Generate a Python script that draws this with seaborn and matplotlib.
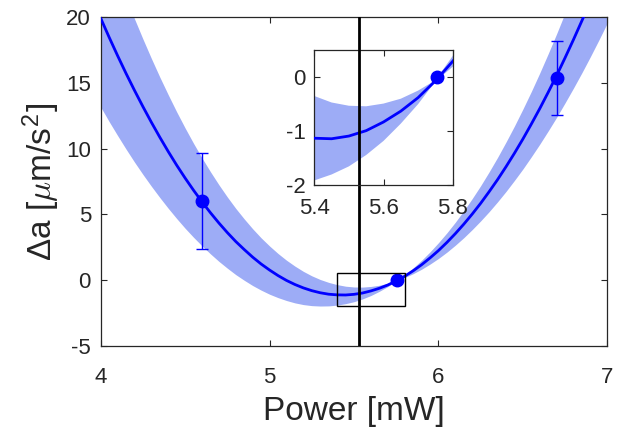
import numpy as np
import pandas as pd
import matplotlib
matplotlib.use("Agg")
import matplotlib.pyplot as plt
import seaborn as sns
from matplotlib.patches import Rectangle

# ---- data ----
power = [4.00, 4.05, 4.10, 4.15, 4.20, 4.25, 4.30, 4.35, 4.40, 4.45, 4.50, 4.55, 4.60, 4.65, 4.70,
         4.75, 4.80, 4.85, 4.90, 4.95, 5.00, 5.05, 5.10, 5.15, 5.20, 5.25, 5.30, 5.35, 5.40, 5.45,
         5.50, 5.55, 5.60, 5.65, 5.70, 5.75, 5.80, 5.85, 5.90, 5.95, 6.00, 6.05, 6.10, 6.15, 6.20,
         6.25, 6.30, 6.35, 6.40, 6.45, 6.50, 6.55, 6.60, 6.65, 6.70, 6.75, 6.80, 6.85, 6.90, 6.95, 7.00]
fit_center = [19.93, 18.48, 17.08, 15.73, 14.44, 13.20, 12.01, 10.87, 9.78, 8.74, 7.76, 6.83, 5.95, 5.12, 4.34,
              3.61, 2.93, 2.32, 1.74, 1.22, 0.76, 0.34, -0.03, -0.34, -0.60, -0.81, -0.97, -1.08, -1.13, -1.14,
              -1.09, -0.99, -0.83, -0.63, -0.38, -0.07, 0.29, 0.70, 1.16, 1.68, 2.24, 2.86, 3.53, 4.25, 5.02,
              5.84, 6.72, 7.64, 8.62, 9.65, 10.73, 11.87, 13.05, 14.29, 15.57, 16.92, 18.31, 19.75, 21.24, 22.79, 24.39]
fit_lower = [13.17, 12.06, 11.00, 9.97, 8.98, 8.04, 7.14, 6.28, 5.46, 4.68, 3.94, 3.25, 2.60, 1.99, 1.42,
             0.90, 0.41, -0.02, -0.42, -0.77, -1.08, -1.34, -1.56, -1.74, -1.87, -1.95, -1.98, -1.97, -1.91, -1.80,
             -1.65, -1.44, -1.18, -0.86, -0.50, -0.08, 0.19, 0.48, 0.82, 1.21, 1.64, 2.12, 2.65, 3.22, 3.84,
             4.50, 5.20, 5.95, 6.74, 7.58, 8.45, 9.38, 10.34, 11.35, 12.39, 13.49, 14.62, 15.79, 17.01, 18.27, 19.57]
fit_upper = [26.68, 24.89, 23.16, 21.49, 19.89, 18.35, 16.87, 15.45, 14.10, 12.80, 11.57, 10.40, 9.29, 8.24, 7.25,
             6.32, 5.45, 4.65, 3.90, 3.21, 2.59, 2.02, 1.51, 1.06, 0.66, 0.32, 0.04, -0.18, -0.35, -0.47,
             -0.53, -0.54, -0.49, -0.40, -0.25, -0.06, 0.39, 0.92, 1.50, 2.14, 2.84, 3.59, 4.40, 5.27, 6.20,
             7.18, 8.23, 9.33, 10.50, 11.72, 13.01, 14.35, 15.76, 17.23, 18.75, 20.34, 21.99, 23.70, 25.47, 27.31, 29.20]
meas_power = [4.60, 5.755, 6.70]
meas_da = [6.04, 0.0, 15.40]
meas_err = [3.65, 0.0, 2.80]
vline_power = 5.53
zoom_box_x = [5.4, 5.8]
zoom_box_y = [-2.0, 0.5]
main_xticks = [4, 5, 6, 7]
main_yticks = [-5, 0, 5, 10, 15, 20]
inset_xticks = [5.4, 5.6, 5.8]
inset_yticks = [-2, -1, 0]

# ---- style ----
sns.set_theme(style="white")
plt.rcParams['font.family'] = ['Liberation Sans', 'DejaVu Sans']
plt.rcParams['mathtext.fontset'] = 'cm'
plt.rcParams['axes.unicode_minus'] = False

W, H = 627, 432
fig = plt.figure(figsize=(W / 100, H / 100), dpi=100)
ax = fig.add_axes([100.7 / W, 1 - 345.7 / H, (607.3 - 100.7) / W, (345.7 - 17.3) / H])
axin = fig.add_axes([314.3 / W, 1 - 185.3 / H, (452.7 - 314.3) / W, (185.3 - 50.0) / H])

df = pd.DataFrame({"power": power, "center": fit_center})
band_color = "#9dacf6"
ink = "#262626"

for a in (ax, axin):
    a.fill_between(power, fit_lower, fit_upper, color=band_color, lw=0, zorder=1)
    sns.lineplot(data=df, x="power", y="center", ax=a, color="blue", lw=2.0, zorder=3)
    a.errorbar(meas_power, meas_da, yerr=meas_err, fmt="o", color="blue", ms=9,
               elinewidth=1.0, capsize=4, capthick=1.0, zorder=4)
    a.axvline(vline_power, color="black", lw=2.0, zorder=5)
    a.set_facecolor("white")
    for s in a.spines.values():
        s.set_color(ink)
        s.set_linewidth(0.9)
        s.set_visible(True)
    a.tick_params(direction="in", length=4, width=0.8, color=ink, labelcolor=ink,
                  labelsize=16, top=True, right=True, bottom=True, left=True)
    a.set_xlabel("")
    a.set_ylabel("")

ax.set_xlim(4, 7)
ax.set_ylim(-5, 20)
ax.set_xticks(main_xticks)
ax.set_yticks(main_yticks)
ax.tick_params(axis="x", pad=15)
ax.tick_params(axis="y", pad=7)

axin.set_xlim(5.4, 5.8)
axin.set_ylim(-2, 0.5)
axin.set_xticks(inset_xticks)
axin.set_xticklabels([f"{v:.1f}" for v in inset_xticks])
axin.set_yticks(inset_yticks)
axin.tick_params(axis="x", pad=9)
axin.tick_params(axis="y", pad=6)

ax.add_patch(Rectangle((zoom_box_x[0], zoom_box_y[0]), zoom_box_x[1] - zoom_box_x[0],
                       zoom_box_y[1] - zoom_box_y[0], fill=False, ec="black", lw=1.0, zorder=6))

ax.set_xlabel("Power [mW]", fontsize=24, color=ink, labelpad=6)
ax.set_ylabel("Δa [$\\mu$m/s$^{\\mathregular{2}}$]", fontsize=24, color=ink, labelpad=3)

fig.savefig("out.png", dpi=100)
